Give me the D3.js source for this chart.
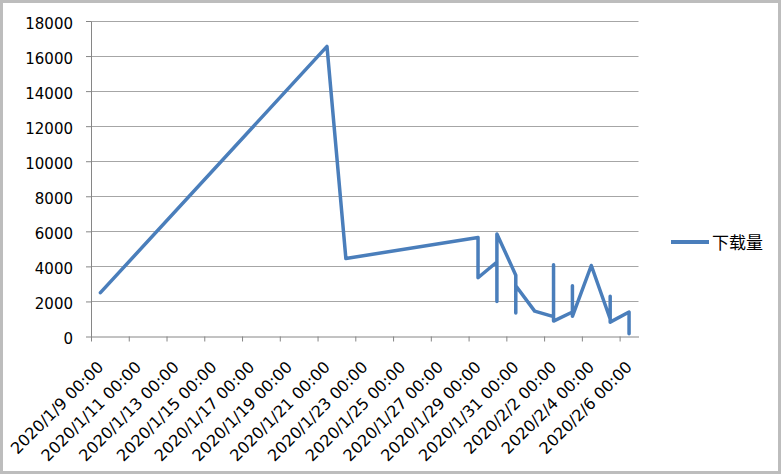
<!DOCTYPE html>
<html>
<head>
<meta charset="utf-8">
<script src="https://cdn.jsdelivr.net/npm/d3@7"></script>
<style>
  html, body { margin: 0; padding: 0; background: #fff; }
  svg { display: block; }
</style>
</head>
<body>
<svg id="chart" width="781" height="474"></svg>
<script>
// ---- data ----
const seriesName = "下载量";
const dates = [
  "2020/1/9", "2020/1/21", "2020/1/22",
  "2020/1/29", "2020/1/29",
  "2020/1/30", "2020/1/30", "2020/1/30",
  "2020/1/31", "2020/1/31", "2020/1/31",
  "2020/2/1",
  "2020/2/2", "2020/2/2", "2020/2/2",
  "2020/2/3", "2020/2/3", "2020/2/3",
  "2020/2/4",
  "2020/2/5", "2020/2/5", "2020/2/5",
  "2020/2/6", "2020/2/6"
];
const downloads = [
  2500, 16550, 4450,
  5650, 3350,
  4250, 2000, 5850,
  3500, 1340, 2900,
  1450,
  1130, 4100, 880,
  1400, 2900, 1150,
  4050,
  1000, 2300, 820,
  1400, 150
];
const yTicks = [0, 2000, 4000, 6000, 8000, 10000, 12000, 14000, 16000, 18000];
const xTickLabels = [
  "2020/1/9 00:00", "2020/1/11 00:00", "2020/1/13 00:00", "2020/1/15 00:00",
  "2020/1/17 00:00", "2020/1/19 00:00", "2020/1/21 00:00", "2020/1/23 00:00",
  "2020/1/25 00:00", "2020/1/27 00:00", "2020/1/29 00:00", "2020/1/31 00:00",
  "2020/2/2 00:00", "2020/2/4 00:00", "2020/2/6 00:00"
];
const xDomain = ["2020/1/9", "2020/2/7"];

// ---- layout ----
const W = 781, H = 474;
const plot = { left: 91, right: 638.5, top: 21, bottom: 336.5 };
const lineColor = "#4A7EBB";
const axisColor = "#868686";
const gridColor = "#a6a6a6";

const parseDay = d3.timeParse("%Y/%m/%d");
const parseLabel = d3.timeParse("%Y/%m/%d %H:%M");

const svg = d3.select("#chart");

// chart-area background + border
svg.append("rect")
  .attr("x", 1.5).attr("y", 1.5)
  .attr("width", W - 3).attr("height", H - 3)
  .attr("fill", "#fff")
  .attr("stroke", "#bdbdbd")
  .attr("stroke-width", 3);

const x = d3.scaleTime()
  .domain(xDomain.map(parseDay))
  .range([plot.left, plot.right]);

const y = d3.scaleLinear()
  .domain([0, 18000])
  .range([plot.bottom, plot.top]);

const dayCenter = d => {
  const d0 = d3.timeDay.floor(d);
  const d1 = d3.timeDay.offset(d0, 1);
  return (x(d0) + x(d1)) / 2;
};

// gridlines
svg.append("g")
  .selectAll("line")
  .data(yTicks.filter(v => v !== 0))
  .join("line")
  .attr("x1", plot.left).attr("x2", plot.right)
  .attr("y1", d => Math.round(y(d)) + 0.5)
  .attr("y2", d => Math.round(y(d)) + 0.5)
  .attr("stroke", gridColor)
  .attr("stroke-width", 1);

// y axis
const yAxis = svg.append("g")
  .attr("transform", `translate(${plot.left},0)`)
  .call(d3.axisLeft(y).tickValues(yTicks).tickSize(5).tickSizeOuter(0).tickFormat(d => d));
yAxis.select(".domain").attr("stroke", axisColor);
yAxis.selectAll(".tick line").attr("stroke", axisColor);
yAxis.selectAll(".tick text")
  .attr("x", -18)
  .attr("dy", "0.62em")
  .attr("y", -2)
  .attr("fill", "#000")
  .attr("font-family", "DejaVu Sans, sans-serif")
  .attr("font-size", 15);

// x axis (ticks at start of every 2nd day)
const tickDates = xTickLabels.map(s => d3.timeDay.floor(parseLabel(s)));
const xAxis = svg.append("g")
  .attr("transform", `translate(0,${plot.bottom})`)
  .call(d3.axisBottom(x).tickValues(tickDates).tickSize(5).tickSizeOuter(0).tickFormat(""));
xAxis.select(".domain").attr("stroke", axisColor);
xAxis.selectAll(".tick line").attr("stroke", axisColor);

// rotated x labels centred on their day
svg.append("g")
  .selectAll("text")
  .data(xTickLabels)
  .join("text")
  .attr("transform", d => `translate(${dayCenter(parseLabel(d)) + 4},${plot.bottom + 31.5}) rotate(-45)`)
  .attr("text-anchor", "end")
  .attr("fill", "#000")
  .attr("font-family", "DejaVu Sans, sans-serif")
  .attr("font-size", 16)
  .text(d => d);

// line series
const pts = dates.map((d, i) => ({ date: parseDay(d), v: downloads[i] }));
const line = d3.line()
  .x(d => dayCenter(d.date))
  .y(d => y(d.v));

svg.append("path")
  .datum(pts)
  .attr("d", line)
  .attr("fill", "none")
  .attr("stroke", lineColor)
  .attr("stroke-width", 3.5)
  .attr("stroke-linejoin", "round")
  .attr("stroke-linecap", "round");

// legend
const lg = svg.append("g").attr("transform", "translate(671,242)");
lg.append("line")
  .attr("x1", 0).attr("x2", 38)
  .attr("y1", 0).attr("y2", 0)
  .attr("stroke", lineColor)
  .attr("stroke-width", 4);
lg.append("text")
  .attr("x", 41).attr("y", 6.5)
  .attr("fill", "#000")
  .attr("font-family", "Noto Sans CJK SC, sans-serif")
  .attr("font-size", 17)
  .text(seriesName);
</script>
</body>
</html>
